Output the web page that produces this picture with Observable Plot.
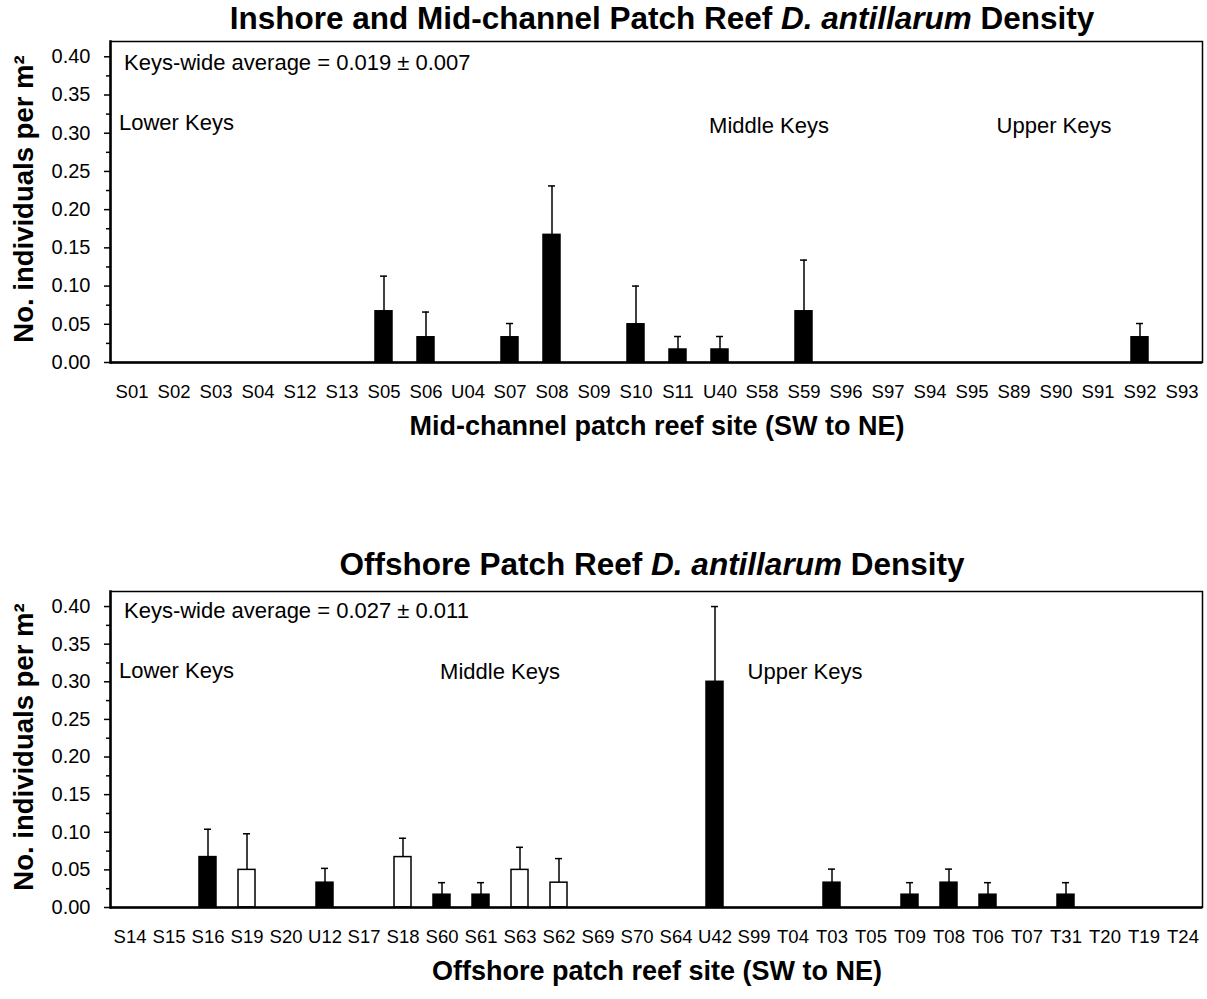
<!DOCTYPE html>
<html><head><meta charset="utf-8">
<script src="https://cdn.jsdelivr.net/npm/d3@7"></script>
<script src="https://cdn.jsdelivr.net/npm/@observablehq/plot@0.6"></script>
<style>
body{margin:0;background:#fff;font-family:"Liberation Sans",Arial,sans-serif;}
#wrap{position:relative;width:1207px;height:999px;overflow:hidden;background:#fff;}
.abs{position:absolute;white-space:nowrap;color:#000;line-height:1;}
.title{font-weight:bold;font-size:31.5px;transform:translateX(-50%);}
.xtitle{font-weight:bold;font-size:27px;transform:translateX(-50%);}
.ytitle{font-weight:bold;font-size:27.5px;transform:translate(-50%,-50%) rotate(-90deg);}
#wrap svg{position:absolute;left:0;}
</style></head>
<body>
<div id="wrap">
  <div class="abs title" style="left:662px;top:3px;">Inshore and Mid-channel Patch Reef <i>D. antillarum</i> Density</div>
  <div class="abs ytitle" style="left:24px;top:199px;">No. individuals per m²</div>
  <div class="abs xtitle" style="left:657px;top:413px;">Mid-channel patch reef site (SW to NE)</div>
  <div class="abs title" style="left:652px;top:549px;">Offshore Patch Reef <i>D. antillarum</i> Density</div>
  <div class="abs ytitle" style="left:24px;top:747px;">No. individuals per m²</div>
  <div class="abs xtitle" style="left:657px;top:958px;">Offshore patch reef site (SW  to NE)</div>
</div>
<script>
// ---------- data ----------
const topSites = ["S01","S02","S03","S04","S12","S13","S05","S06","U04","S07","S08","S09","S10","S11","U40","S58","S59","S96","S97","S94","S95","S89","S90","S91","S92","S93"];
const topMeans = [0,0,0,0,0,0,0.067,0.033,0,0.033,0.167,0,0.050,0.017,0.017,0,0.067,0,0,0,0,0,0,0,0.033,0];
const topSE    = [0,0,0,0,0,0,0.046,0.033,0,0.018,0.064,0,0.050,0.017,0.017,0,0.067,0,0,0,0,0,0,0,0.018,0];
const topOpen  = [];

const botSites = ["S14","S15","S16","S19","S20","U12","S17","S18","S60","S61","S63","S62","S69","S70","S64","U42","S99","T04","T03","T05","T09","T08","T06","T07","T31","T20","T19","T24"];
const botMeans = [0,0,0.067,0.050,0,0.033,0,0.067,0.017,0.017,0.050,0.033,0,0,0,0.300,0,0,0.033,0,0.017,0.033,0.017,0,0.017,0,0,0];
const botSE    = [0,0,0.037,0.048,0,0.019,0,0.025,0.016,0.016,0.030,0.032,0,0,0,0.100,0,0,0.018,0,0.016,0.018,0.016,0,0.016,0,0,0];
const botOpen  = ["S19","S18","S63","S62"];

const yMajor = [0,0.05,0.10,0.15,0.20,0.25,0.30,0.35,0.40];
const yMinor = [0.025,0.075,0.125,0.175,0.225,0.275,0.325,0.375];

const topNoteText = ["Keys-wide average = 0.019 ± 0.007","Lower Keys","Middle Keys","Upper Keys"];
const topNoteSite = ["S01","S01","S58","S90"];
const topNoteY    = [0.392,0.313,0.309,0.309];

const botNoteText = ["Keys-wide average = 0.027 ± 0.011","Lower Keys","Middle Keys","Upper Keys"];
const botNoteSite = ["S14","S14","S61","T04"];
const botNoteY    = [0.394,0.315,0.313,0.313];

// ---------- chart ----------
function chart({sites, means, se, open, noteText, noteSite, noteY, noteDx, noteAnchor, height, marginTop, marginBottom, pad, top}) {
  const rows = sites.map((s,i)=>({site:s, mean:means[i], se:se[i], open:open.includes(s)}));
  const withErr = rows.filter(d=>d.se>0);
  const filled = rows.filter(d=>d.mean>0 && !d.open);
  const hollow = rows.filter(d=>d.mean>0 && d.open);
  const notes = noteText.map((t,i)=>({label:t, site:noteSite[i], y:noteY[i]}));
  const p = Plot.plot({
    width:1207, height, marginLeft:110, marginRight:5, marginTop, marginBottom,
    style:{fontFamily:'"Liberation Sans", Arial, sans-serif', color:'#000', background:'transparent', overflow:'visible'},
    x:{type:'band', domain:sites, paddingInner:pad, paddingOuter:pad/2, align:0.5, label:null},
    y:{domain:[0,0.42], label:null},
    marks:[
      Plot.axisY(yMajor,{tickSize:6, tickPadding:14, fontSize:20, tickFormat:d3.format('.2f'), label:null, strokeWidth:1.5}),
      Plot.axisY(yMinor,{tickSize:4, tickFormat:()=>'', label:null, strokeWidth:1.5}),
      Plot.axisX({tickSize:0, tickPadding:22, fontSize:18.5, label:null}),
      Plot.ruleX(withErr,{x:'site', y1:'mean', y2:d=>d.mean+d.se, stroke:'#000', strokeWidth:1.5}),
      Plot.tickY(withErr,{x:'site', y:d=>d.mean+d.se, stroke:'#000', strokeWidth:1.5, insetLeft:5, insetRight:5}),
      Plot.barY(filled,{x:'site', y:'mean', fill:'#000', stroke:'#000', strokeWidth:1.5}),
      Plot.barY(hollow,{x:'site', y:'mean', fill:'#fff', stroke:'#000', strokeWidth:1.5}),
      Plot.frame({stroke:'#000', strokeWidth:1.5}),
      Plot.frame({anchor:'left', stroke:'#000', strokeWidth:2.5}),
      Plot.ruleY([0],{stroke:'#000', strokeWidth:2.5}),
      ...notes.map((n,i)=>Plot.text([n],{x:'site', y:'y', text:'label', dx:noteDx[i], textAnchor:noteAnchor[i], fontSize:22, fill:'#000'}))
    ]
  });
  p.style.top = top + 'px';
  return p;
}

const wrap = document.getElementById('wrap');
wrap.appendChild(chart({sites:topSites, means:topMeans, se:topSE, open:topOpen,
  noteText:topNoteText, noteSite:topNoteSite, noteY:topNoteY, noteDx:[-8,-13,7,-2], noteAnchor:['start','start','middle','middle'],
  height:460, marginTop:41, marginBottom:98, pad:0.6, top:0}));
wrap.appendChild(chart({sites:botSites, means:botMeans, se:botSE, open:botOpen,
  noteText:botNoteText, noteSite:botNoteSite, noteY:botNoteY, noteDx:[-6,-11,19,12], noteAnchor:['start','start','middle','middle'],
  height:480, marginTop:91, marginBottom:73, pad:0.56, top:500}));
</script>
</body></html>
